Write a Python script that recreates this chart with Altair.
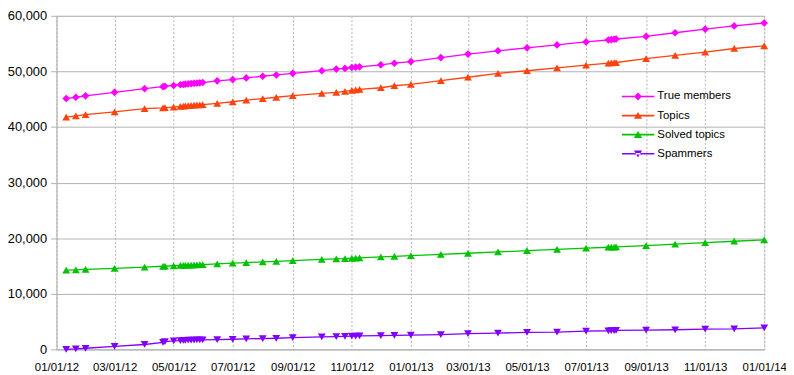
import altair as alt
import pandas as pd

# ---- data ----
dates = [
    "2012-01-11", "2012-01-21", "2012-01-31", "2012-03-01", "2012-04-01",
    "2012-04-20", "2012-04-22", "2012-05-01",
    "2012-05-08", "2012-05-11", "2012-05-13", "2012-05-16", "2012-05-19",
    "2012-05-22", "2012-05-25", "2012-05-28", "2012-05-31",
    "2012-06-15", "2012-07-01", "2012-07-15", "2012-08-01", "2012-08-15",
    "2012-09-01", "2012-10-01", "2012-10-16", "2012-10-25", "2012-11-01",
    "2012-11-05", "2012-11-09", "2012-12-01", "2012-12-15",
    "2013-01-01", "2013-02-01", "2013-03-01", "2013-04-01", "2013-05-01",
    "2013-06-01", "2013-07-01", "2013-07-24", "2013-07-27", "2013-07-30",
    "2013-08-01", "2013-09-01", "2013-10-01", "2013-11-01", "2013-12-01",
    "2014-01-01",
]

true_members = [
    45120, 45350, 45600, 46240, 46890,
    47250, 47330, 47470,
    47600, 47650, 47700, 47750, 47800,
    47850, 47900, 47950, 48000,
    48300, 48530, 48830, 49130, 49360,
    49650, 50120, 50420, 50540, 50700,
    50760, 50820, 51180, 51470,
    51770, 52480, 53120, 53710, 54240,
    54770, 55300, 55650, 55720, 55780,
    55830, 56290, 56950, 57600, 58180,
    58710,
]

topics = [
    41770, 42000, 42240, 42710, 43300,
    43450, 43500, 43590,
    43720, 43770, 43810, 43850, 43890,
    43930, 43960, 44000, 44040,
    44240, 44540, 44830, 45120, 45350,
    45650, 46060, 46240, 46410, 46590,
    46680, 46760, 47060, 47420,
    47680, 48350, 48950, 49660, 50120,
    50650, 51120, 51470, 51520, 51560,
    51600, 52300, 52890, 53470, 54120,
    54600,
]

solved_topics = [
    14240, 14300, 14380, 14560, 14800,
    14950, 14970, 15040,
    15090, 15110, 15130, 15150, 15170,
    15190, 15210, 15230, 15250,
    15380, 15500, 15600, 15730, 15830,
    15960, 16170, 16280, 16340, 16390,
    16420, 16450, 16620, 16720,
    16850, 17080, 17290, 17520, 17750,
    17980, 18200, 18370, 18390, 18410,
    18430, 18680, 18930, 19200, 19450,
    19710,
]

spammers = [
    20, 80, 200, 530, 880,
    1240, 1400, 1530,
    1590, 1610, 1630, 1650, 1660,
    1680, 1690, 1700, 1710,
    1760, 1820, 1880, 1940, 2000,
    2120, 2240, 2300, 2340, 2370,
    2400, 2420, 2470, 2520,
    2560, 2650, 2820, 2940, 3060,
    3120, 3300, 3350, 3370, 3390,
    3400, 3450, 3530, 3650, 3700,
    3880,
]

series_names = ["True members", "Topics", "Solved topics", "Spammers"]
series_colors = ["#ff00ff", "#ff420e", "#00c400", "#8000ff"]
series_shapes = ["diamond", "triangle-up", "triangle-up", "triangle-down"]

tick_dates = [
    (2012, 1), (2012, 3), (2012, 5), (2012, 7), (2012, 9), (2012, 11),
    (2013, 1), (2013, 3), (2013, 5), (2013, 7), (2013, 9), (2013, 11),
    (2014, 1),
]
y_ticks = [0, 10000, 20000, 30000, 40000, 50000, 60000]

# legend symbols: short line with the marker in the middle
_line = "M-1,-0.05L1,-0.05L1,0.05L-1,0.05Z"
legend_paths = [
    _line + "M0,-0.24L0.24,0L0,0.24L-0.24,0Z",
    _line + "M0,-0.22L0.25,0.2L-0.25,0.2Z",
    _line + "M0,-0.22L0.25,0.2L-0.25,0.2Z",
    _line + "M0,0.22L0.25,-0.2L-0.25,-0.2Z",
]

rows = []
for name, vals in zip(series_names, [true_members, topics, solved_topics, spammers]):
    for d, v in zip(dates, vals):
        rows.append({"date": d, "value": v, "series": name})
df = pd.DataFrame(rows)

GRID = "#b3b3b3"
FONT = "Liberation Sans"

x_enc = alt.X(
    "date:T",
    title=None,
    scale=alt.Scale(
        type="utc",
        domain=[alt.DateTime(year=2012, month=1, date=1, utc=True),
                alt.DateTime(year=2014, month=1, date=1, utc=True)],
    ),
    axis=alt.Axis(
        values=[alt.DateTime(year=y, month=m, date=1, utc=True) for y, m in tick_dates],
        format="%m/%d/%y",
        grid=True,
        gridColor=GRID,
        gridDash=[2, 2],
        gridWidth=1,
        ticks=False,
        domainColor=GRID,
        labelPadding=12,
        labelFontSize=11.5,
        labelColor="#000000",
        labelFont=FONT,
        labelAngle=0,
        labelOverlap=False,
        labelFlush=False,
    ),
)
y_enc = alt.Y(
    "value:Q",
    title=None,
    scale=alt.Scale(domain=[0, 60000], nice=False),
    axis=alt.Axis(
        values=y_ticks,
        format=",.0f",
        grid=True,
        gridColor=GRID,
        gridWidth=1,
        tickColor=GRID,
        tickSize=6,
        domainColor=GRID,
        labelPadding=4,
        labelFontSize=13,
        labelColor="#000000",
        labelFont=FONT,
        labelOverlap=False,
        labelFlush=False,
    ),
)
color_scale = alt.Scale(domain=series_names, range=series_colors)

base = alt.Chart(df)

line_layers = []
point_layers = []
for name, shape, col in zip(series_names, series_shapes, series_colors):
    sub = base.transform_filter(alt.datum.series == name)
    line_layers.append(
        sub.mark_line(strokeWidth=1.3, color=col).encode(x=x_enc, y=y_enc)
    )
    point_layers.append(
        sub.mark_point(shape=shape, filled=True, color=col, opacity=1,
                       size=60 if shape == "diamond" else 62)
        .encode(x=x_enc, y=y_enc)
    )

leg_common = dict(
    orient="none", legendX=571, legendY=73, title=None,
    labelFont=FONT, labelFontSize=11.5, labelColor="#000000",
    symbolSize=1089, symbolStrokeWidth=0, symbolOpacity=1,
    clipHeight=17, rowPadding=2.3, labelOffset=3, padding=0,
)
legend_layer = (
    base.transform_filter("false")
    .mark_point(filled=True, opacity=1)
    .encode(
        color=alt.Color("series:N", scale=color_scale, legend=alt.Legend(**leg_common)),
        shape=alt.Shape("series:N",
                        scale=alt.Scale(domain=series_names, range=legend_paths),
                        legend=alt.Legend(**leg_common)),
    )
)

chart = (
    alt.layer(*line_layers, *point_layers, legend_layer)
    .properties(
        width=715, height=337,
        autosize=alt.AutoSizeParams(type="none"),
        padding={"left": 49, "top": 6, "right": 22, "bottom": 24},
    )
    .configure_view(stroke=GRID, strokeWidth=1)
    .configure(background="white")
)

chart.save("out.html", embed_options={"renderer": "svg", "actions": False})
